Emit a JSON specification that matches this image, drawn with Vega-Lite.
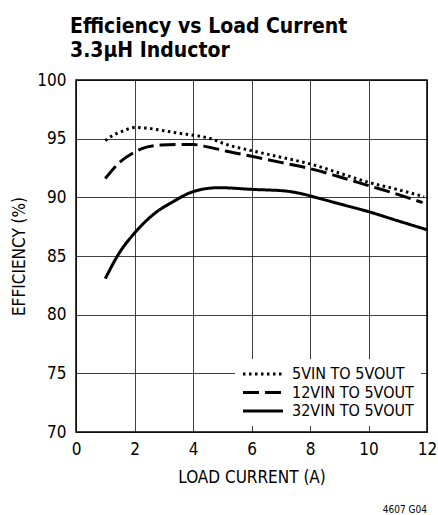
{
  "$schema": "https://vega.github.io/schema/vega-lite/v6.json",
  "width": 351,
  "height": 352,
  "autosize": {"type": "none"},
  "padding": {"left": 76, "top": 80, "right": 11, "bottom": 83},
  "background": "white",
  "config": {
    "font": "DejaVu Sans Condensed, Roboto, sans-serif",
    "view": {"stroke": "#000", "strokeWidth": 1.5},
    "axis": {
      "labelFont": "DejaVu Sans Condensed, Roboto, sans-serif",
      "labelFontSize": 17,
      "labelColor": "#000",
      "titleFont": "DejaVu Sans Condensed, Roboto, sans-serif",
      "titleFontSize": 17,
      "titleFontWeight": "normal",
      "titleColor": "#000",
      "domain": false,
      "ticks": false,
      "grid": true,
      "gridColor": "#000",
      "gridOpacity": 0.75,
      "gridWidth": 1,
      "labelFlush": false,
      "labelOverlap": false
    },
    "legend": {
      "labelFont": "DejaVu Sans Condensed, Roboto, sans-serif",
      "labelColor": "#000"
    }
  },
  "title": {
    "text": ["Efficiency vs Load Current", "3.3µH Inductor"],
    "anchor": "start",
    "frame": "group",
    "font": "DejaVu Sans Condensed, Roboto, sans-serif",
    "fontSize": 21,
    "fontWeight": "bold",
    "color": "#000",
    "lineHeight": 24,
    "dx": -6,
    "offset": 10
  },
  "layer": [
    {
      "data": {
        "values": [
          {"series": "5VIN TO 5VOUT", "current": 1.0, "eff": 94.83},
          {"series": "5VIN TO 5VOUT", "current": 1.22, "eff": 95.22},
          {"series": "5VIN TO 5VOUT", "current": 1.6, "eff": 95.65},
          {"series": "5VIN TO 5VOUT", "current": 2.0, "eff": 95.95},
          {"series": "5VIN TO 5VOUT", "current": 2.4, "eff": 95.9},
          {"series": "5VIN TO 5VOUT", "current": 3.0, "eff": 95.68},
          {"series": "5VIN TO 5VOUT", "current": 3.5, "eff": 95.47},
          {"series": "5VIN TO 5VOUT", "current": 4.0, "eff": 95.3},
          {"series": "5VIN TO 5VOUT", "current": 4.5, "eff": 95.07},
          {"series": "5VIN TO 5VOUT", "current": 5.2, "eff": 94.46},
          {"series": "5VIN TO 5VOUT", "current": 6.0, "eff": 93.98},
          {"series": "5VIN TO 5VOUT", "current": 7.0, "eff": 93.42},
          {"series": "5VIN TO 5VOUT", "current": 8.0, "eff": 92.85},
          {"series": "5VIN TO 5VOUT", "current": 9.0, "eff": 92.07},
          {"series": "5VIN TO 5VOUT", "current": 10.0, "eff": 91.28},
          {"series": "5VIN TO 5VOUT", "current": 11.0, "eff": 90.66},
          {"series": "5VIN TO 5VOUT", "current": 11.9, "eff": 90.06},
          {"series": "12VIN TO 5VOUT", "current": 1.0, "eff": 91.6},
          {"series": "12VIN TO 5VOUT", "current": 1.5, "eff": 93.0},
          {"series": "12VIN TO 5VOUT", "current": 2.0, "eff": 93.85},
          {"series": "12VIN TO 5VOUT", "current": 2.25, "eff": 94.15},
          {"series": "12VIN TO 5VOUT", "current": 2.9, "eff": 94.45},
          {"series": "12VIN TO 5VOUT", "current": 3.5, "eff": 94.5},
          {"series": "12VIN TO 5VOUT", "current": 4.0, "eff": 94.5},
          {"series": "12VIN TO 5VOUT", "current": 4.5, "eff": 94.3},
          {"series": "12VIN TO 5VOUT", "current": 5.15, "eff": 93.93},
          {"series": "12VIN TO 5VOUT", "current": 6.0, "eff": 93.5},
          {"series": "12VIN TO 5VOUT", "current": 7.0, "eff": 92.98},
          {"series": "12VIN TO 5VOUT", "current": 8.0, "eff": 92.45},
          {"series": "12VIN TO 5VOUT", "current": 9.0, "eff": 91.75},
          {"series": "12VIN TO 5VOUT", "current": 10.0, "eff": 91.0},
          {"series": "12VIN TO 5VOUT", "current": 11.0, "eff": 90.25},
          {"series": "12VIN TO 5VOUT", "current": 11.85, "eff": 89.55},
          {"series": "32VIN TO 5VOUT", "current": 1.0, "eff": 83.07},
          {"series": "32VIN TO 5VOUT", "current": 1.5, "eff": 85.34},
          {"series": "32VIN TO 5VOUT", "current": 2.0, "eff": 86.95},
          {"series": "32VIN TO 5VOUT", "current": 2.75, "eff": 88.75},
          {"series": "32VIN TO 5VOUT", "current": 3.3, "eff": 89.6},
          {"series": "32VIN TO 5VOUT", "current": 3.9, "eff": 90.39},
          {"series": "32VIN TO 5VOUT", "current": 4.5, "eff": 90.76},
          {"series": "32VIN TO 5VOUT", "current": 4.9, "eff": 90.82},
          {"series": "32VIN TO 5VOUT", "current": 6.0, "eff": 90.68},
          {"series": "32VIN TO 5VOUT", "current": 7.2, "eff": 90.53},
          {"series": "32VIN TO 5VOUT", "current": 7.65, "eff": 90.34},
          {"series": "32VIN TO 5VOUT", "current": 8.3, "eff": 89.92},
          {"series": "32VIN TO 5VOUT", "current": 9.0, "eff": 89.45},
          {"series": "32VIN TO 5VOUT", "current": 10.0, "eff": 88.78},
          {"series": "32VIN TO 5VOUT", "current": 11.0, "eff": 88.0},
          {"series": "32VIN TO 5VOUT", "current": 12.0, "eff": 87.24}
        ]
      },
      "mark": {"type": "line", "interpolate": "monotone", "strokeWidth": 3, "strokeCap": "butt", "color": "#000"},
      "encoding": {
        "x": {
          "field": "current",
          "type": "quantitative",
          "scale": {"domain": [0, 12], "nice": false},
          "axis": {"values": [0, 2, 4, 6, 8, 10, 12], "title": "LOAD CURRENT (A)", "labelPadding": 9, "titlePadding": 12}
        },
        "y": {
          "field": "eff",
          "type": "quantitative",
          "scale": {"domain": [70, 100], "nice": false, "zero": false},
          "axis": {"values": [70, 75, 80, 85, 90, 95, 100], "title": "EFFICIENCY (%)", "labelPadding": 10, "titlePadding": 8}
        },
        "strokeDash": {
          "field": "series",
          "type": "nominal",
          "sort": ["5VIN TO 5VOUT", "12VIN TO 5VOUT", "32VIN TO 5VOUT"],
          "scale": {
            "domain": ["5VIN TO 5VOUT", "12VIN TO 5VOUT", "32VIN TO 5VOUT"],
            "range": [[2.5, 3.5], [16, 6], [1, 0]]
          },
          "legend": {
            "orient": "bottom-right",
            "offset": 6,
            "title": null,
            "fillColor": "white",
            "padding": 7,
            "symbolType": "M-5,0H5",
            "symbolSize": 64,
            "symbolOffset": 13,
            "symbolStrokeWidth": 3,
            "symbolStrokeColor": "#000",
            "symbolFillColor": "transparent",
            "labelFontSize": 16,
            "labelOffset": 21,
            "rowPadding": 2.5
          }
        }
      }
    },
    {
      "data": {"values": [{"note": "4607 G04"}]},
      "mark": {"type": "text", "align": "right", "baseline": "alphabetic", "fontSize": 10, "color": "#000", "font": "DejaVu Sans Condensed, Roboto, sans-serif"},
      "encoding": {
        "x": {"datum": 12, "type": "quantitative"},
        "y": {"datum": 63.1, "type": "quantitative"},
        "text": {"field": "note"}
      }
    }
  ]
}
